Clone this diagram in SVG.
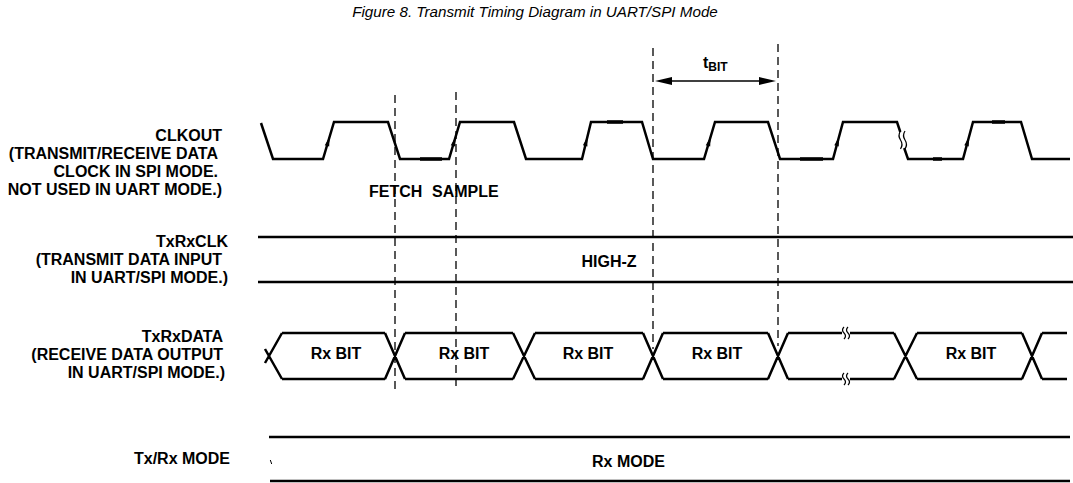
<svg xmlns="http://www.w3.org/2000/svg" xmlns:xlink="http://www.w3.org/1999/xlink" width="1073" height="483" viewBox="0 0 1073 483">
<style>
.lbl{font-family:"Liberation Sans",Arial,sans-serif;font-weight:bold;font-size:16px;fill:#000}
.end{text-anchor:end}
.mid{text-anchor:middle}
.title{font-family:"Liberation Sans",Arial,sans-serif;font-style:italic;font-size:15.2px;fill:#000;text-anchor:middle}
.wave{fill:none;stroke:#000;stroke-width:2.5;stroke-linejoin:miter}
.bus{fill:none;stroke:#000;stroke-width:2.3}
.thk{fill:none;stroke:#000;stroke-width:3.4}
.dash{fill:none;stroke:#000;stroke-width:1.3;stroke-dasharray:8 5}
.sq{fill:none;stroke:#000;stroke-width:1.2}
</style>
<defs>
<polygon id="ah" points="0,-5.5 2.3,4 -2.3,4" fill="#000"/>
</defs>
<rect width="1073" height="483" fill="#fff"/>
<text class="title" x="535" y="17">Figure 8. Transmit Timing Diagram in UART/SPI Mode</text>

<g id="clkout">
<text class="lbl end" x="222" y="141">CLKOUT</text>
<text class="lbl end" x="218" y="159">(TRANSMIT/RECEIVE DATA</text>
<text class="lbl end" x="218" y="177">CLOCK IN SPI MODE.</text>
<text class="lbl end" x="222" y="195">NOT USED IN UART MODE.)</text>
<path class="wave" d="M261,123 L273,159 L323,159 L334,122 L388,122 L400,159 L449,159 L460,122 L514,122 L526,159 L582,159 L591,122 L642,122 L653,159 L704,159 L715,122 L768,122 L780,159 L833,159 L843,122 L897,122 L900.3,132"/>
<path class="wave" d="M904.2,148 L908,159 L963,159 L973,122 L1021,122 L1032,159 L1070,159"/>
<path class="sq" d="M900.5,131 q-3,4.5 0,9 q3,4.5 0,9 M905,131 q-3,4.5 0,9 q3,4.5 0,9"/>
<path class="thk" d="M420,159 H442 M607,122 H623 M800,159 H823 M933,159 H942 M992,122 H1005"/>
<use xlink:href="#ah" href="#ah" transform="translate(328.1,142) rotate(16.5)"/>
<use xlink:href="#ah" href="#ah" transform="translate(454.1,142) rotate(16.5)"/>
<use xlink:href="#ah" href="#ah" transform="translate(586.1,142) rotate(13.7)"/>
<use xlink:href="#ah" href="#ah" transform="translate(709.1,142) rotate(16.5)"/>
<use xlink:href="#ah" href="#ah" transform="translate(837.6,142) rotate(15.1)"/>
<use xlink:href="#ah" href="#ah" transform="translate(967.6,142) rotate(15.1)"/>
</g>

<g id="markers">
<path class="dash" d="M395,95 V389 M456,92 V391 M653,48 V349 M778,44 V346"/>
<text class="lbl" y="197"><tspan x="369">FETCH</tspan><tspan x="432">SAMPLE</tspan></text>
<path class="bus" d="M667,81 H764" style="stroke-width:1.5"/>
<polygon points="655,81 672,77 672,85" fill="#000"/>
<polygon points="776,81 759,77 759,85" fill="#000"/>
<text class="lbl" x="703" y="68" font-size="17">t<tspan font-size="12" dy="3">BIT</tspan></text>
</g>

<g id="txrxclk">
<text class="lbl end" x="228" y="247">TxRxCLK</text>
<text class="lbl end" x="222" y="265">(TRANSMIT DATA INPUT</text>
<text class="lbl end" x="228" y="283">IN UART/SPI MODE.)</text>
<path class="bus" d="M258,237 H1073 M258,282 H1073"/>
<text class="lbl mid" x="609" y="267">HIGH-Z</text>
</g>

<g id="txrxdata">
<text class="lbl end" x="223" y="342">TxRxDATA</text>
<text class="lbl end" x="223" y="360">(RECEIVE DATA OUTPUT</text>
<text class="lbl end" x="225" y="378">IN UART/SPI MODE.)</text>
<path class="wave" d="M265,349 L282,379 M265,363 L282,333
M282,333 H385 M282,379 H385
M385,333 L405,379 M385,379 L405,333
M405,333 H513 M405,379 H513
M513,333 L535,379 M513,379 L535,333
M535,333 H643 M535,379 H643
M643,333 L663,379 M643,379 L663,333
M663,333 H768 M663,379 H768
M768,333 L788,379 M768,379 L788,333
M788,333 H842 M788,379 H842
M850,333 H894 M850,379 H894
M894,333 L917,379 M894,379 L917,333
M917,333 H1022 M917,379 H1022
M1022,333 L1042,379 M1022,379 L1042,333
M1042,333 H1067 M1042,379 H1067"/>
<path class="sq" d="M844,327 q-3,3 0,6 q3,3 0,6 M848,327 q-3,3 0,6 q3,3 0,6 M844,373 q-3,3 0,6 q3,3 0,6 M848,373 q-3,3 0,6 q3,3 0,6"/>
<text class="lbl mid" x="336" y="359">Rx BIT</text>
<text class="lbl mid" x="464" y="359">Rx BIT</text>
<text class="lbl mid" x="588" y="359">Rx BIT</text>
<text class="lbl mid" x="717" y="359">Rx BIT</text>
<text class="lbl mid" x="971" y="359">Rx BIT</text>
</g>

<g id="txrxmode">
<text class="lbl end" x="230" y="464">Tx/Rx MODE</text>
<path class="bus" d="M269,437 H1070 M270,481 H1070"/>
<path d="M270.3,460 L271.7,464" stroke="#000" stroke-width="1"/>
<text class="lbl mid" x="628.5" y="467">Rx MODE</text>
</g>
</svg>
